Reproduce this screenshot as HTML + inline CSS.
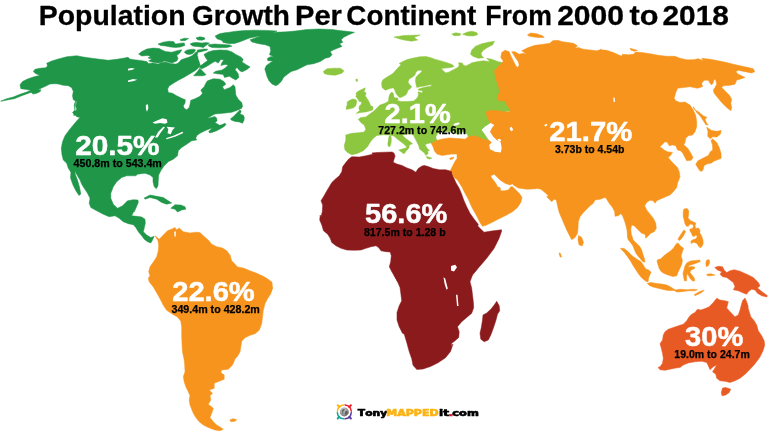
<!DOCTYPE html>
<html><head><meta charset="utf-8"><title>Population Growth Per Continent From 2000 to 2018</title>
<style>
html,body{margin:0;padding:0;background:#fff;}
body{width:768px;height:432px;overflow:hidden;font-family:"Liberation Sans",sans-serif;}
svg{display:block}
</style></head><body>
<svg width="768" height="432" viewBox="0 0 768 432">
<path class="na" fill="#1f9648" stroke="#1f9648" stroke-width="0.5" stroke-linejoin="round" d="M0.8,101 6.7,98.7 13.3,97 20,94.3 26.7,92 30.8,90.3 25,89.3 20.8,88.7 20,84.8 22.5,81.5 27.5,79 33.3,77 40,75.3 35.8,73.7 33.3,71.5 35,69.3 40,68.2 45.8,67.8 47.5,65.7 46.7,63.2 51.7,61 58.3,59 66.7,56.8 76.7,55.7 83.3,57 91.7,58.2 100,59.3 108.3,60.3 116.7,59.3 123.3,58.2 128,57.3 129.9,59.1 134.2,59.8 140.5,60.4 146.8,61.6 148.6,63.5 153,62.9 158,64.1 161.8,62.5 165.5,61.9 170.5,63.5 175.5,64.1 180.5,62.9 183.6,65.4 189.2,61.6 190.5,59.1 194.2,56.6 196.1,54.8 197.8,56.6 198.2,61 199.9,66.6 195.5,70.4 190.5,73.5 184.2,77.2 178,80.4 173,83.5 169.2,86 167.8,88.5 167.5,87.5 168.3,92.5 172.5,93.3 176.7,95.8 181.7,98.3 185.3,99.7 185,103.3 183.3,105.8 184.2,108.3 186.7,109.7 189.2,107.5 190,104.2 190.8,100.3 195,98.7 200,96.3 202.5,93.3 200.8,90 204.2,86.7 205.8,83.3 207.5,80.8 213.3,78.7 220,79.2 224.2,81.7 225.8,84.2 222.5,86.7 224.2,89.7 230,87.5 233.3,84.7 235,86.7 235.8,95 238.3,99.2 241.7,102.5 242.5,105.8 241.7,107.5 242.3,106.5 241.7,108.2 237.5,110.2 231.7,112.3 223.3,113.2 215,114 211.7,115.7 207.1,118.6 215,116.5 216.7,118.2 217.1,120.7 215,122.8 217.5,124 219.6,125.2 221.7,124.8 225,123.2 226,124.4 224.2,126.5 220.8,128.6 216.7,130.7 212.5,132.3 209.6,133 208.8,131.5 210.8,129.4 212.5,128.2 209.2,129 205,130.7 200,133.2 196.7,135.7 195.8,138.2 196.7,140 191.7,140.8 186.7,144.2 181.7,147.5 178.3,150.8 177.5,155.8 173.3,159.2 168.3,161.7 164.2,165.8 160.8,170.8 158.7,175 158.3,180 158,185.8 156.3,188.7 154.2,186.7 153,181.7 153,177.5 150,175 145,173.3 137.5,174.2 135.8,175.8 126.7,175.8 121.7,177.5 116.7,181.7 113.3,186.7 110.8,193.3 110.8,198.3 113.3,204.2 117.5,208.3 122.5,205.8 127.5,200.8 133.3,199.7 138,200 138.3,202.5 135.8,208.3 134.2,212 135,208.3 133.3,212.5 131.7,215.8 136.7,216.3 141.7,217 145,219.2 145.3,223.3 144.2,228.3 143.3,231.7 146.7,235 150.8,237.5 154.2,236.3 152.5,240 150.8,243 147.5,241.7 144.2,239.2 141.7,235.8 138.3,231.7 135.8,227.5 133.3,224.7 128.3,223.7 123.3,221.7 119.2,218.3 115,215.8 109.2,216.7 103.3,214.2 96.7,210.8 90.8,207.5 89.2,203.3 90,198.3 87.5,193.3 84.2,188.3 81.7,184.2 80,180 77,175 74.5,170.5 70.8,172 68.3,168.3 66.7,163.3 63.3,160 62,155 61.3,148.3 62.5,141.7 65,135.8 69.2,130 73.3,125 77.5,120 80,117.5 76.7,116.7 72.5,112.5 75,110 74.2,105 75.8,100 74.2,116 73.3,112.3 76.7,109.8 75.8,105.7 76.7,101.5 73.3,99.8 72.5,95.7 73.3,91.5 71.7,87.7 68.3,85.7 63.3,85.3 58.3,84 55,83.7 50,84 45,86.5 40,88.7 33.3,91.5 30,92.7 21.7,95.7 14.2,98.7 8.3,99.8 0.8,101.3ZM230.4,119 234.2,115.7 237.9,111.9 240,109.8 241.2,111.5 240,114 243.3,115.2 244.3,117.3 244,120.2 242.5,123.3 239.2,121.9 235,121.5 231.7,120.2ZM250,39.8 257,37.3 265.3,34.3 275.3,32.3 287,31.8 295.3,31 307,29.5 318.7,29 332,29.5 341.2,30.7 348.7,31.5 354.5,32.3 348.7,34.8 343.7,37.3 341.2,39.8 342.8,42.3 339.5,43.7 342,46.5 338.7,47.7 333.7,49.8 330.3,51.5 332,54.8 329.5,57.3 325.3,58.2 320.3,61.5 313.7,63.7 307,64.8 302,67.3 297,69.8 291.2,71.5 287.8,74 283.7,77.3 281.2,81.5 277.8,84.8 275.7,85.7 272,84 269,80.7 267,76.5 265.8,72.3 264.8,69 266.2,65.7 269.5,63.2 272.8,61 267.8,60.7 267.3,58.5 270.3,56.8 273.7,56.5 269.5,54.8 270.7,50.7 270,46.5 265.3,44.8 258.7,43.7 252,42ZM71,171 74.5,170 75.5,175 77.5,180 79.5,187 80.8,194 79,195.5 76,191 73,185 70.5,178ZM144.2,198 150,195 156.7,196.3 163.3,197.5 168.3,200.8 171.7,203 166.7,204.2 161.7,202.5 156.7,199.2 150,197.5 145,199.2ZM170.8,208.3 175,204.7 180.8,205 185,206.7 185.8,209.2 181.7,210 177.5,212 175,209.2ZM138.6,54.1 141.8,51.6 146.8,49.1 153,48.1 159.2,48.5 163,50.4 165.5,51.6 171.8,52.2 178,50.4 181.8,49.8 179.9,52.9 176.8,55.4 178,58.5 176.8,61 171.8,62.9 166.8,61.6 164.2,61 161.8,62.2 158,62.9 153,62.2 148.6,61 151.8,59.1 148,57.9 150.5,56.6 148,55.4 141.8,56ZM158,44.1 163,42.2 169.2,41.2 173.6,41.6 175.5,44.1 180.5,43.2 184.2,42.9 184.9,45.4 180.5,47 175.5,47.5 170.5,47 165.5,46 160.5,45.4ZM179.9,39.8 184.2,38.2 188.6,38.5 185.5,40.4 181.1,40.8ZM196.1,37.9 200.5,37 204.9,38.2 203,40 198,39.8ZM190.5,43.5 195.5,42.9 200.5,43.5 205.5,45.4 203,47.2 198,46.6 193,46 190.5,44.5ZM184.3,51.9 186.6,50.2 189.9,49.4 193.7,49.2 195.5,49.8 194.5,51.9 192.8,53.6 189.9,54.4 187,54.2 185.3,53.2ZM197,50.2 200.3,49.4 204.5,49 207.8,49.2 207,50.2 203.7,51.1 200.3,51.9 197.8,52.3ZM199.9,68.2 206.1,74.8 203,75.8 193.6,75.8 196.8,72.2ZM215.1,36 219.5,33.8 224.5,32.8 229.5,32.2 235.8,31.2 244.5,30.6 254.5,30.2 267,30.4 277,31 272,33.1 264.5,35 257,36.5 249.5,38.1 244.5,40 239.5,41.9 234.5,43.5 229.5,43.8 223.2,42.5 222,40.6 217,38.8ZM208.2,44.8 214.5,44 222,44.4 229.5,45 232,46.2 227,47.5 219.5,47.8 212,47.5 208.9,46.2ZM196.4,38.1 199.5,36.9 203.9,37.5 205.1,39 202,40 197.6,39.8ZM192,43.1 197,42.5 202,43.1 205.8,42.5 209.5,43.1 205.8,45.6 203.2,47.5 199.5,46.2 194.5,46 192,45.6ZM203.9,54.4 208.2,51.9 213.2,50.6 219.5,50 227,50.2 232,51.9 235.8,54.4 240.8,56.9 243.2,59.4 242,61.9 245.8,64.4 250.1,66.9 247,69.4 242,71.9 239.5,70.6 237,67.5 235.1,69.4 238.2,73.8 238.9,77.5 235.8,80 232,78.1 229.5,76.2 224.5,77.5 223.2,74.4 217,73.8 213.2,73.1 215.8,71.2 222,70 225.8,67.5 228.2,65 225.1,64.4 220.8,65.6 222,62.5 223.9,60 220.8,59.4 218.2,63.1 215.1,61.2 210.8,63.8 207,66.2 202,68.8 199.5,67.5 203.2,63.8 207.6,60.6 205.8,58.1ZM179.5,61.7 181.2,59.8 184.5,58.6 188.7,57.3 192,55.7 194.5,53.6 196.2,51.9 198,51.5 197.5,54 197,56.5 197.8,59 199.1,61.5 200.2,65.2 197,68.2 188.7,71.5 180.3,69 177,64ZM199.9,65.8 203.7,64 207,61.9 209.1,60.2 211.2,60.7 208.7,62.8 205.3,64.8 202,66.9 200.3,67.3ZM31.2,92.5 34.4,91 38.1,89.5 41,89.8 40.2,91.6 36.9,93.2 33.1,94.1Z"/>
<path class="lake" fill="#fff" d="M152.5,122.5 158.3,120 162.5,118.3 166.7,119.2 167.5,122.5 165,123.7 160,123 155,123.7ZM155,137.5 158.3,131.7 163.3,126.7 165,127 160.8,132.5 157.5,137.5ZM166.7,126.7 175,127.5 172.5,130 170.8,134.2 167.5,133.3 168.3,129.2ZM165.8,138.3 173.3,135.8 182.5,131.7 183.3,133 175,136.7 166.7,139.2ZM128,68.8 131.8,67.9 134.9,68.8 131.8,70 128,70.4ZM128,80.4 133,79.1 137.4,79.8 133,81.2 128,82ZM145.8,105 148,104.2 148.3,108.3 147,111.7 146,109.2Z"/>
<path class="sa" fill="#f7941d" stroke="#f7941d" stroke-width="0.5" stroke-linejoin="round" d="M155,235.8 159.2,239.2 163.3,235 167.5,230.8 172.5,228.7 175,227.5 176.7,230 179.2,228 183.3,231.7 190,233 195.8,232.2 200,232.5 203.3,235.8 208.3,240 211.7,244.2 216.7,246.7 222.5,248 226.7,250.8 230,255 231.7,260.8 235,264.2 237.5,267 243.3,268 250,270.8 256.7,273.3 263.3,276.3 267,278.5 272,282.2 272.5,288.5 270.8,292.2 272.5,287 270.8,293.7 267.5,298.7 265,303.7 263.3,310.3 262.5,317 261.7,323.7 259.2,330.3 255,333.7 250,335.3 245,337.8 241.7,341.2 240.8,347 240,352 237.5,356.2 235,359 232.5,365 228.3,369.2 221.7,370 220.8,372.5 224.2,375 224.2,379.2 219.2,381.3 214.2,383.3 214.2,388.3 209.2,390 212.5,393.3 210,395.8 210.8,400 208.3,404.2 213.3,408.3 211.7,413.3 210,417.5 213.3,421.7 216.7,425 220.8,427.5 223.3,429.2 220,430.8 215,430 208.3,427.5 203.3,425 199.2,421.7 195.8,417.5 193.3,413.3 191.7,409.2 190,405 189.2,400 190,395.8 188.3,391.7 185.8,386.7 184.2,381.7 183.3,376.7 185,371.7 184.7,365 184.2,360 182.5,352 182,343.7 181.7,335.3 181.7,327 180.8,321.2 177.5,317 171.7,313.7 166.7,310.3 163.3,305.3 160,298.7 156.7,292.8 153.3,287 149.2,281.7 148.3,278.3 150,275.8 148.7,271.7 150,266.7 154.2,260.8 156.7,256.7 158.3,250.8 158.7,245 158,240.8ZM230,419.7 233.3,418.7 236.7,419.7 235,421.3 230.8,421.7Z"/>
<path class="lake" fill="#fff" d="M174.2,231.7 175.8,231.3 175.8,236.3 174.5,236.7Z"/>
<path class="eu" fill="#8dc63f" stroke="#8dc63f" stroke-width="0.5" stroke-linejoin="round" d="M358.3,119.2 360.8,117.5 365.8,117 370.8,113.3 374.2,110.8 380,105 385,103.3 388.5,101.2 388.9,97.1 390,93.8 392,92.1 393.5,93.8 393.8,96.8 395.4,98 397.5,97.8 398.2,99.2 397.2,100.5 401,101.5 407.2,101.5 413.5,101 416,99.2 417.9,96.8 418.5,94.2 418,91.8 419.8,92.2 422.5,93 422.5,90.8 419.1,90.2 417.9,89.5 420,88.6 423.5,87.5 427.2,86.8 431,86.2 431.8,84.8 428.5,85 424.8,85.9 419.8,86.8 416.8,87.5 416,84.2 415.4,80.5 416,77.2 418.5,74.6 421,72.5 422.2,70.9 421.5,70.4 418.5,70.2 416,72.1 414.8,75.2 412.2,77.2 409.2,79 408,82.1 409.5,84.6 411.8,86.8 409.8,89 408,90.2 407.2,92.8 406,94.8 402.9,96.6 399.8,97.8 398,96 396,93.4 394.8,90.2 393.5,87.8 389.8,88.5 385.5,90.2 382.2,87.8 381.6,83 382.9,79.8 387.9,76.5 392.2,74 394.8,71.5 397.9,67.8 401,64.8 399.2,63.5 402.9,61.5 407.2,59.6 413.5,58 419.8,56.8 426,56.5 431,57.8 434.8,59.2 441,60.9 447.2,62.8 452.2,64.6 454.1,66.5 451,67.5 446,68 441.2,68.4 443.5,70.9 445.5,72.8 448,72.5 451,70.9 454.8,69 458.5,67.1 459.1,64.8 458.5,62.8 462.2,63 463.5,65.2 466,65.9 469.8,64 472,62.8 476.7,61.7 483.3,60.8 490,61.7 486.7,58.3 491.7,59.2 498.3,61.7 502.5,62.5 510,61.7 513.3,85 513.3,110 495,114.2 490.8,123 485,126.7 481.7,130 484.2,133.3 488.3,139.2 490,142.5 470,140 468.2,136.5 467.5,134.8 465.6,133.1 463.1,131.5 461.2,132 459.8,134 457.5,134.5 455.6,132.8 453.8,131.2 450,132 445,131.5 440.6,132 437.5,133.5 436,136.2 436,138.5 437.5,140.5 432,143.5 430.8,142.9 427.6,143.5 425.1,144.8 427,147.9 429.5,150.4 427.6,151 428.2,153.5 425.8,155.4 424.5,152.9 422,151 419.5,149.1 418.9,146 417,142.2 415.1,138.5 413.2,134.8 409.5,133.8 405.8,134.5 402,134.8 405.8,138.5 410.8,142.2 412.6,143.8 409.5,144.8 408.9,147.9 407.6,149.1 406.4,146.6 403.2,143.5 398.2,139.8 393.9,136 389.5,135 385.8,134.8 380.8,135 377,135.4 374.5,137.2 372,139.8 370,142.5 367.5,146.7 363.3,150.8 356.7,153.7 351.7,154.7 347.5,152.5 345,150 344.2,145.8 345.8,140 345.8,135 351.7,133.3 358.3,132.8 364.2,132 365.8,129.2 364.2,125 360.8,122.5 358.3,119.2ZM362.7,89 365.2,87.8 364.8,90.2 363.5,91.5 365.6,92.3 366,94 365.2,95.7 366.8,98.2 368.5,100.7 369.8,103.6 370.6,105.7 372.7,106.5 373.1,108.2 372.2,110.2 369.3,111.1 366,111.9 362.7,112.3 359.3,112.8 356.4,113.6 357.7,111.9 359.8,110.7 358.9,108.6 359.3,106.1 361,104.4 361.8,101.9 359.3,101.5 358.1,99.4 356.8,97.8 355.8,96.5 356.4,94.8 356,93.2 357.7,91.5 360.2,90.2ZM347.2,101.9 349.8,100.2 352.7,99 355.6,99.4 356.8,100.7 356.4,103.6 355.6,106.1 353.5,107.8 351,108.6 348.5,109 346.2,109.4 346.4,106.9 347.2,104.8ZM323.3,71.5 327,68.7 333.7,68.2 340.3,68.2 344,70.7 342,73.2 335.3,75.3 328.7,74.8 324.5,73.7ZM355.8,79.2 357.5,79.2 357.5,81.3 356.2,81.3ZM398.8,150 402.3,149 405.8,147.9 407.8,147.1 408.2,148.8 406.3,150.8 404.7,153.3 403.3,153.5 401.1,151.8ZM389.2,135.8 390.8,135.7 391.3,138.3 391.2,141.7 390.7,144.6 389.7,146.7 388.2,146.2 387.8,143.8 388.3,140.8 388.7,137.9ZM426.4,156.6 429.5,157.2 432,158.2 429.5,159.1 427,158.2ZM462.5,34.3 466.7,32.3 471.7,31.2 476.7,32.5 477.8,34.7 473.3,36 467.5,35.8ZM451.7,34 455.8,32.8 460.8,33.7 460,35.5 454.2,35.7ZM394,37 404,35.5 420.2,35 414,37.5 417.8,40 411.5,41.2 404,40 399,38.8ZM470.5,54.3 471.7,50 475.5,46.2 481.7,43.8 488.3,42.2 494.5,41.3 492.8,44.7 487.5,47.5 483.3,50.3 481,53.3 481.8,55.8 483.7,57.8 478.3,58.3 473.3,56.5Z"/>
<path class="lake" fill="#fff" d="M453.1,124.8 455.6,123.1 459,122.5 459.8,123.8 457.5,125.2 454.4,125.8Z"/>
<path class="af" fill="#8b1a1c" stroke="#8b1a1c" stroke-width="0.5" stroke-linejoin="round" d="M351.8,156.7 359.3,157 366,155.8 372.7,154.2 372,152.9 377,152.5 384.5,152.2 392,152 393.9,152.9 395.1,156 393.9,159.8 393.2,162.2 397,164.1 402,165.4 407,167.9 412,169.8 415.8,172.2 418.2,168.5 422,166 424.5,165.4 428.2,166.6 433.2,168.5 439.5,169.8 445.8,169.8 450.1,171 451.7,170.8 453.3,176.7 455.8,182.5 459.2,188.3 461.7,194.2 463.7,200 466.7,206.7 470,213.3 474.2,219.2 478.3,224.2 477.8,226 480.2,228.5 484,232.2 491.5,231 501.5,229.8 501.5,231.5 499,238.5 494,248.5 486.5,258.5 479,267.2 472.8,274.8 472.5,275 470,281.7 471.7,288.3 472.5,295 473.3,301.7 473.7,307.5 471.7,313.3 466.7,317.5 461.7,321.7 457.5,326.7 459.2,331.7 458.7,337.5 455,340.8 451.7,343.3 451.3,347 453,344 450.5,351.5 445.5,357.8 438,362.8 430.5,366.5 423,369 416.8,369.5 413,365.2 411.8,359 409.2,351.5 406.8,342.8 404.2,334 402.5,333.3 399.2,326.7 397,320 397,312.5 399.2,305.8 401.7,300.8 400.8,293.3 400,287.5 397.5,281.7 394.2,275 397.7,281.7 395.2,277.5 391.8,271.7 389.3,266.7 390.7,261.7 391.3,255.8 390.2,252 386,251.7 381,250.8 378.5,247.5 376,245.8 371,246.7 366,248.3 361,250 354.3,250.3 346.8,250 341,248.3 336,245.8 331.8,242.5 330.2,238.3 327.7,234.2 323.5,230.8 321.8,225 319.7,220 320.2,215 321,216.7 322.3,211.7 322.7,205 321,200.8 323.5,196.7 326.3,191.7 329.3,186.7 331.8,182.5 335.2,179.2 339.3,175.8 341.8,171.7 342.7,166.7 345.2,163.3 348.5,159.2ZM496.7,301.3 499.2,305.8 499.7,310.8 497.5,314.2 495.8,320.8 493.3,328.3 490.8,335 488.3,340 484.2,341.7 480.8,339.2 480,333.3 481.3,327.5 482.5,320 483,315 486.7,313 490.8,309.2 494.2,305Z"/>
<path class="lake" fill="#fff" d="M451,266 455.2,264.8 457,267.2 454,271.5 451,270.5ZM443.5,277.2 445.2,278.5 447.8,288.5 446.5,289.8 444.5,283.5ZM456,294.8 457.5,294.8 458.5,306 457,306Z"/>
<path class="as" fill="#f7941d" stroke="#f7941d" stroke-width="0.5" stroke-linejoin="round" d="M503.3,61.3 500.8,57.5 501.7,52.5 505,50.3 509.2,51.7 510.8,55.8 513.3,60.8 515.8,65.8 517.5,67.5 519.2,65 518.3,61.7 515.8,58.3 513.3,54.2 511.7,51.7 515,51.7 519.2,54.2 523.3,53.3 526.7,54.2 521.7,50.8 528.3,47.5 535,45.3 543.3,44.2 550,43.3 552.5,40.8 557.5,40.3 562.5,41.7 568.3,42.5 573.3,43.3 577.5,45.8 575,48.3 578.3,47.5 583.3,49.2 590,50 596.7,50.8 601.7,49.2 600,49.7 606.7,50.3 613.3,52.5 618.3,54.7 621.7,56.3 622.5,54.2 628.3,54.7 633.3,54.2 635.8,52 641.7,52.5 650,53.7 658.3,55.3 666.7,56.3 675,56.3 680,58.3 686.7,59.7 693.3,59.7 698.3,58.7 703.3,60.8 701.7,58.3 710,59.2 718.3,60.8 726.7,62.5 733.3,64.2 740,65.8 748.3,67.5 753.3,68.7 754.7,71.7 751.7,73 745,71.7 738.3,70.3 735.8,71.7 738.3,74.2 741.7,75.8 745,77.5 740,79.2 736.7,80 735,84.2 730,85.3 723.3,85.8 721.7,87.5 725,90.8 729.2,95 731.7,99.2 730.8,103.3 731.7,107.5 730.8,110.8 726.7,107.5 721.7,102.5 717.5,97.5 714.2,93.3 713.3,90 715,87.5 716.7,84.2 715.8,80 714.2,79.2 713.3,82.5 711.7,85 710,83.3 708.3,80.3 704.2,80.3 701.7,83.3 702.5,86.7 697.5,88.3 690,86.7 677.5,88.3 675.8,92.5 674.2,98.3 675.8,100.8 680,102.5 685,102 690,105 693.3,110 695.8,115.8 696.7,121.7 696.7,126.7 695,131.7 692.5,135 688.3,135.8 685.8,138.3 685,142.5 683.7,144.7 687.5,148 690.7,153 693,157.5 691.3,160.2 686.7,160.7 684.7,157 682.7,153 680.3,150.7 677.5,150 675.8,145.8 672.5,145 669.2,145.8 667.5,142.5 665,141.7 660,146.7 664.2,150 667.5,151.7 672.5,152.5 670.8,155 668.3,157.5 670.8,160.8 674.2,164.2 677.5,167.5 679.2,171.7 680,177 680,176.7 677.5,183.3 676.7,187.5 673.3,191.7 670,195 665.8,196.7 660,199.2 656.7,200.8 655,203.3 653.3,200.8 650,200.3 646.7,202.5 644.7,205.8 646.7,210 650,214.2 653.3,218.3 655.8,223.3 656.3,228.3 654.2,231.7 650.8,233.3 647.5,236.7 645.8,238.3 645,234.2 641.7,233.3 637.5,229.2 634.2,225.8 631.7,225 630.8,229.2 631.3,234.2 632.5,238.3 631.7,236.7 633.3,240.8 637.5,245 640.8,250 643.3,256.7 644.7,261.7 642.5,261.3 640,258.3 637.5,254.2 635,250 632.5,245 630,241.7 628,238.3 627.5,236.7 627,230 625.8,225 624.2,220 622.5,215.8 620.8,213.7 618.3,215.8 615,216.3 614.7,211.7 612.5,207.5 609.2,203.3 606.7,199.2 605,197 605,197.5 600,199.2 595,200 593.3,203.3 590,205.8 586.7,209.2 583.3,212.5 580,216.7 578.3,221.7 578,228.3 577.5,233.3 575,237.5 571.7,239.7 569.2,235 566.7,230 564.2,224.2 561.7,218.3 559.2,212.5 557.5,205.8 556.3,200 554.2,199.2 551.7,201.7 549.2,199.2 546.7,196.7 548.3,195.8 545,192.5 540.8,189.2 536.7,188.3 536.7,188.7 526.7,189.2 518.3,188 513.3,185 512.5,183.7 510,185 505,183.3 500,180 496.7,176.7 494.2,174.2 490.8,175.8 491.3,177.5 493.3,180 495.8,183.3 497.5,186.7 500,187.5 500.8,190.8 504.2,190.8 508.3,190 510.8,186.7 512.5,186.7 516.7,190.8 520,194.2 522,197.5 520.8,202.5 517.5,207.5 512.5,211.7 506.7,215 500,218.3 493.3,221.7 486.7,225 482.5,226.3 480,222.5 477.5,217.5 475.8,214.2 473.3,210 470.8,205 468.3,199.2 465,193.3 461.7,186.7 457.5,180 453.3,176.7 451.7,170.8 450.1,171 452,167.2 454.5,162.2 457,158.5 457,154.1 452,154.1 447,154.8 442,155.4 437,154.1 434.5,151 433.2,147.2 431.4,143.5 437,140.4 442,139.1 449.5,137.9 457,138.5 464.5,139.8 458.3,138.7 465,139.2 468.3,136.7 475,135.8 483.3,139.2 489.2,140.8 490.8,123 488.1,119 487.4,117 486.4,114.5 485.9,112.1 488.1,110.9 491.2,110.4 496.2,110.6 501.2,111.2 505,111.8 507.5,111.9 509.5,111.5 510.1,110.4 510,109.2 508.4,107.3 506.8,104.8 506.2,102.9 505.9,101.1 502.5,100.9 498.9,100.8 497.8,99.2 497.4,97.6 498.2,95.1 499.7,92 498.3,85 498.3,86.7 495.8,78.3 494.2,70.8ZM449.4,158.5 451.9,157.5 454,157.2 452.8,159 450.2,159.5ZM527.5,34.7 530.8,33 536.7,33.7 542.5,35.8 544.2,37.5 538.3,37.5 531.7,36.7 528.3,35.8ZM630,48.3 633.3,49.2 637.5,50.3 634.2,51.3 630.8,50ZM694.2,109.2 698.3,111.7 703.3,115.8 707,117.5 705,119.2 706.7,123.3 708.3,125 705.8,124.7 703.3,120.8 700,115.8 696.7,112.5 693.3,106.7ZM706.7,127.2 711.7,130.5 716.7,131.3 721.2,130.5 720.3,134.3 717,137 712.8,136.7 710.3,138.8 707.7,136.2 708,131.7ZM712.5,138.8 716.7,142.5 719.2,147.5 721,153.3 721.2,158.3 717,160 713.7,161.2 711.7,163 707.7,163.8 704.3,165.3 702.8,170.3 699,169.7 695.7,164.3 698,160.7 703.3,158 708.3,155.5 710,152.2 712.7,149.7 712.5,145 711,140.8ZM578.5,235.5 581.5,237.2 583.5,242.2 582.2,246 579,244.8 578,239.8ZM620.5,248.2 624.2,248.5 628,251.6 632.4,256 636.8,259.1 640.8,261.6 643,264.5 645.5,268.8 648.6,270 651.1,272.2 649.9,274.8 648.6,277.9 648,282 645.5,281 641.8,277.9 638.6,274.1 635.8,269.8 633,265.4 630.5,261 627.4,256.6 624.2,252.2 621.8,250ZM647.4,283.2 651.1,282.5 656.8,283.5 661.8,284.1 666.8,285 669.9,286.6 673,288.5 676.1,290.5 668,290.5 663,289.4 658,288.2 653,287 649.2,285.4ZM674.2,290.3 680,289.2 686.7,289.7 693.3,289.2 697.5,289.7 695,290.8 688.3,290.8 681.7,291.7 676.7,292ZM694.2,294.7 699.2,291.7 704.2,290 702.5,292 698.3,294.2 695,295.8ZM657.4,259.8 660.5,259.1 663,256.6 666.8,253.5 670.5,251 673.6,247.9 676.1,244.1 678,242.9 680.5,246 683.6,248.2 682.4,251.6 681.1,256 682.4,260.4 681.8,264.1 679.9,268.5 678,272.2 676.8,275.8 673,276.6 668,275 664.2,273.5 661.1,271.6 659.2,268.5 658,264.8 657.1,261.6ZM686.8,262.9 690.5,261 695.5,260.4 699.9,260 700.2,261.6 696.8,262.9 692.4,264.5 689.2,265.4 688,267.2 691.1,266.6 694.9,267 694.2,268.8 691.1,270 689.9,272.2 691.8,274.8 694.2,277.9 694.9,280.4 693,281.2 690.5,279.1 688.6,275.8 687.4,273.5 686.5,276.6 686.8,280.4 684.5,281 683.6,277.2 683,273.5 684,269.8 684.9,266ZM706.7,260 709.2,259.7 709.7,262.5 708.3,265.8 706.3,266.7 705.8,263.3ZM706.7,274.2 710.8,273.7 715,275 710.8,275.8 707.5,275.8ZM559,252.8 560.5,253.5 561.5,257.2 560,256.8ZM699.2,168.7 701.3,167.7 702.7,169.3 701.7,171.3 700,171ZM683.8,209.1 687.2,208.5 688.8,211 688.5,215.4 687.9,217.9 690.4,220.4 693.5,222 695.8,222.9 695,226 695.8,228.5 698.5,227.9 700,230.4 699.8,232.9 701.6,236 702.9,239.8 703.2,243.5 702.2,246 700.4,247.9 698.5,246 696.6,243.2 693.5,242.2 691.2,243.5 690.8,241.2 692.9,239.8 696,238.8 697.2,236.6 695.8,235 694.1,236.6 692.5,236 691.6,233.5 690,231 689.8,229.1 692.2,228.8 693.5,226.6 692.9,224.5 689.8,224.1 688.2,226.6 686,225.8 684.8,222.9 684.1,219.8 683.2,216.6 683.2,212.2ZM677.8,239.2 679.9,236 682.1,232.5 684,229.9 685.6,231.5 683.9,235.1 681.6,238.4 679.6,240.6ZM627.4,236 631.1,236 633,239.8 636.1,242.9 639.9,246.6 641.8,250.4 643,254.8 644.5,259.1 644.9,262.2 643,261.6 640.8,259.1 638,256 635.8,252.9 634.2,249.1 633,245.4 630.5,242.2 628.2,239.8Z"/>
<path class="lake" fill="#fff" d="M490.8,123 494.2,125 491.7,128.3 490,131.7 493.3,136.7 496.7,140 500.8,142.5 501.7,148.3 500.8,152.5 495,151.7 490,149.2 489.2,145 491.7,142.5 488.3,139.2 484.2,133.3 481.7,130 485,126.7ZM510,127.5 511.7,126.7 513.3,130 511.3,131.3 509.7,129.2ZM497.5,139.2 500,138.7 501.3,140.8 499.2,142ZM544.2,125 546.7,123.7 547.5,125 545.3,126.7ZM613.3,97.5 614.7,97.5 615,102 613.7,102Z"/>
<path class="oc" fill="#e85a24" stroke="#e85a24" stroke-width="0.5" stroke-linejoin="round" d="M714.7,267.5 718.3,266.3 722.5,266.7 724.2,270 726.7,272.5 730,270.8 734.2,269.7 740,271.3 746.7,274.2 753.3,277.5 758.3,282.5 760,285.8 757.5,288 760.8,290.8 764.2,293.3 767.5,295.8 766.7,297 761.7,295.8 757.5,293.3 755,290 751.7,289.2 748.3,291.7 746.7,294.2 743.3,293 738.3,290.8 733.3,289.7 735,286.7 733.3,282.5 730,280 726.7,277.5 722.5,276.7 720,274.2 721.7,271.7 717.5,270ZM716.7,298.3 720,300 725,300.8 728.3,301.7 727.5,305 726.7,308 729.2,310.8 732.5,314.2 735,317 735,316.7 738.3,315 740,310 741.3,305 742.5,300.8 745,298 746.7,301.7 748.3,306.7 748,307.5 749.2,311.7 750.8,316.7 754.2,320.8 756.7,325 758.3,330.8 761.7,335.8 764.2,340.8 764.7,345.3 763,350.8 759.7,357.5 754,365 750,369.2 745.7,373.7 740,378.3 735,380.8 730,382.5 725,381.3 720,380.8 716.7,378.3 715.8,374.2 712.5,371.7 714.2,369.2 716.7,365 713.3,366.7 710,369.7 708.3,365.8 706.7,362.5 701.7,361.3 695,361.7 688.3,363 683.3,365 680,367.5 675.8,368 670,369.2 665,370.3 660,369.7 658,367.5 660,366.7 662.5,363.3 663.3,358.3 662.5,353.3 661.3,348.3 660,343.7 662.5,340 663.3,335 665,331.7 668.3,329.2 673.3,327.5 678.3,325.8 683.3,324.2 686.7,320.8 689.2,316.7 691.7,314.2 695,312.5 697.5,309.2 700.8,310 705.8,308.3 709.2,306.7 713.3,302.5ZM722.5,388 725.8,387.5 730.8,389.2 729.2,392.5 725.8,395 722,395.8 721.3,392.5Z"/>
<g font-family="'Liberation Sans',sans-serif" font-weight="bold" style="font-kerning:none" stroke-linejoin="round">
<text y="24.7" font-size="27.4" fill="#000" stroke="#000" stroke-width="0.3"><tspan x="38.8" textLength="146.76" lengthAdjust="spacingAndGlyphs">Population</tspan> <tspan x="192.05" textLength="97.88" lengthAdjust="spacingAndGlyphs">Growth</tspan> <tspan x="295.05" textLength="46.89" lengthAdjust="spacingAndGlyphs">Per</tspan> <tspan x="346.36" textLength="129.98" lengthAdjust="spacingAndGlyphs">Continent</tspan> <tspan x="485.22" textLength="66.64" lengthAdjust="spacingAndGlyphs">From</tspan> <tspan x="557.16" textLength="66.88" lengthAdjust="spacingAndGlyphs">2000</tspan> <tspan x="629.43" textLength="28.97" lengthAdjust="spacingAndGlyphs">to</tspan> <tspan x="662.46" textLength="66.45" lengthAdjust="spacingAndGlyphs">2018</tspan></text>
<text x="75.17" y="155" font-size="27.6" textLength="84.42" lengthAdjust="spacingAndGlyphs" fill="#fff" stroke="#fff" stroke-width="0.5">20.5%</text>
<text x="384.59" y="122.7" font-size="27.6" textLength="66.17" lengthAdjust="spacingAndGlyphs" fill="#fff" stroke="#fff" stroke-width="0.5">2.1%</text>
<text x="549.18" y="140.7" font-size="27.6" textLength="83.09" lengthAdjust="spacingAndGlyphs" fill="#fff" stroke="#fff" stroke-width="0.5">21.7%</text>
<text x="365.11" y="223.2" font-size="27.6" textLength="82.16" lengthAdjust="spacingAndGlyphs" fill="#fff" stroke="#fff" stroke-width="0.5">56.6%</text>
<text x="172.19" y="301.1" font-size="27.6" textLength="82.58" lengthAdjust="spacingAndGlyphs" fill="#fff" stroke="#fff" stroke-width="0.5">22.6%</text>
<text x="685.13" y="345.8" font-size="27.6" textLength="58.13" lengthAdjust="spacingAndGlyphs" fill="#fff" stroke="#fff" stroke-width="0.5">30%</text>
<text x="73.64" y="166.8" font-size="10.6" textLength="88.22" lengthAdjust="spacingAndGlyphs" fill="#000" stroke="#000" stroke-width="0.25">450.8m to 543.4m</text>
<text x="378.35" y="133.8" font-size="10.6" textLength="87.51" lengthAdjust="spacingAndGlyphs" fill="#000" stroke="#000" stroke-width="0.25">727.2m to 742.6m</text>
<text x="554.96" y="153" font-size="10.6" textLength="69.47" lengthAdjust="spacingAndGlyphs" fill="#000" stroke="#000" stroke-width="0.25">3.73b to 4.54b</text>
<text x="363.96" y="235.8" font-size="10.6" textLength="81.67" lengthAdjust="spacingAndGlyphs" fill="#000" stroke="#000" stroke-width="0.25">817.5m to 1.28 b</text>
<text x="171.46" y="312.8" font-size="10.6" textLength="88.41" lengthAdjust="spacingAndGlyphs" fill="#000" stroke="#000" stroke-width="0.25">349.4m to 428.2m</text>
<text x="674.34" y="357.5" font-size="10.6" textLength="75.52" lengthAdjust="spacingAndGlyphs" fill="#000" stroke="#000" stroke-width="0.25">19.0m to 24.7m</text>
<g class="logo">
<defs><radialGradient id="gl" cx="0.4" cy="0.35" r="0.75"><stop offset="0" stop-color="#dcdcdc"/><stop offset="0.55" stop-color="#9a9a9a"/><stop offset="1" stop-color="#5e5e5e"/></radialGradient></defs>
<circle cx="344.3" cy="411.9" r="4.5" fill="url(#gl)"/>
<path d="M341.7,410.3l1.6,-1.4 1.5,0.4 -0.4,1.5 -1.2,0.9 0.3,1.6 -1,0.8zM344.9,411.6l1.8,-0.8 1.2,1 -0.8,2.2 -1.4,0.9 -0.9,-1.4z" fill="#555" opacity="0.85"/>
<path d="M337.34,411.17A7.0,7.0 0 0 1 343.57,404.94" fill="none" stroke="#fbb316" stroke-width="1.5" stroke-linecap="round"/>
<path d="M339.35,406.95L337.72,405.32" fill="none" stroke="#fbb316" stroke-width="2" stroke-linecap="round"/>
<path d="M345.03,404.94A7.0,7.0 0 0 1 351.26,411.17" fill="none" stroke="#e8202a" stroke-width="1.5" stroke-linecap="round"/>
<path d="M349.25,406.95L350.88,405.32" fill="none" stroke="#e8202a" stroke-width="2" stroke-linecap="round"/>
<path d="M343.57,418.86A7.0,7.0 0 0 1 337.34,412.63" fill="none" stroke="#1aa39a" stroke-width="1.5" stroke-linecap="round"/>
<path d="M339.35,416.85L337.72,418.48" fill="none" stroke="#1aa39a" stroke-width="2" stroke-linecap="round"/>
<path d="M351.26,412.63A7.0,7.0 0 0 1 345.03,418.86" fill="none" stroke="#5b3a9c" stroke-width="1.5" stroke-linecap="round"/>
<path d="M349.25,416.85L350.88,418.48" fill="none" stroke="#5b3a9c" stroke-width="2" stroke-linecap="round"/>
</g>
<text y="415.8" font-size="8.5" font-family="'DejaVu Sans','Liberation Sans',sans-serif" stroke-width="0.7"><tspan x="357.85" textLength="29.35" lengthAdjust="spacingAndGlyphs" fill="#000" stroke="#000">Tony</tspan><tspan x="386.39" textLength="52.18" lengthAdjust="spacingAndGlyphs" fill="#fbb316" stroke="#fbb316">MAPPED</tspan><tspan x="439.09" textLength="9.89" lengthAdjust="spacingAndGlyphs" fill="#000" stroke="#000">it</tspan><tspan x="448.21" textLength="5.19" lengthAdjust="spacingAndGlyphs" fill="#e8202a" stroke="#e8202a">.</tspan><tspan x="452.31" textLength="26.49" lengthAdjust="spacingAndGlyphs" fill="#000" stroke="#000">com</tspan></text>
</g>
</svg>
</body></html>
